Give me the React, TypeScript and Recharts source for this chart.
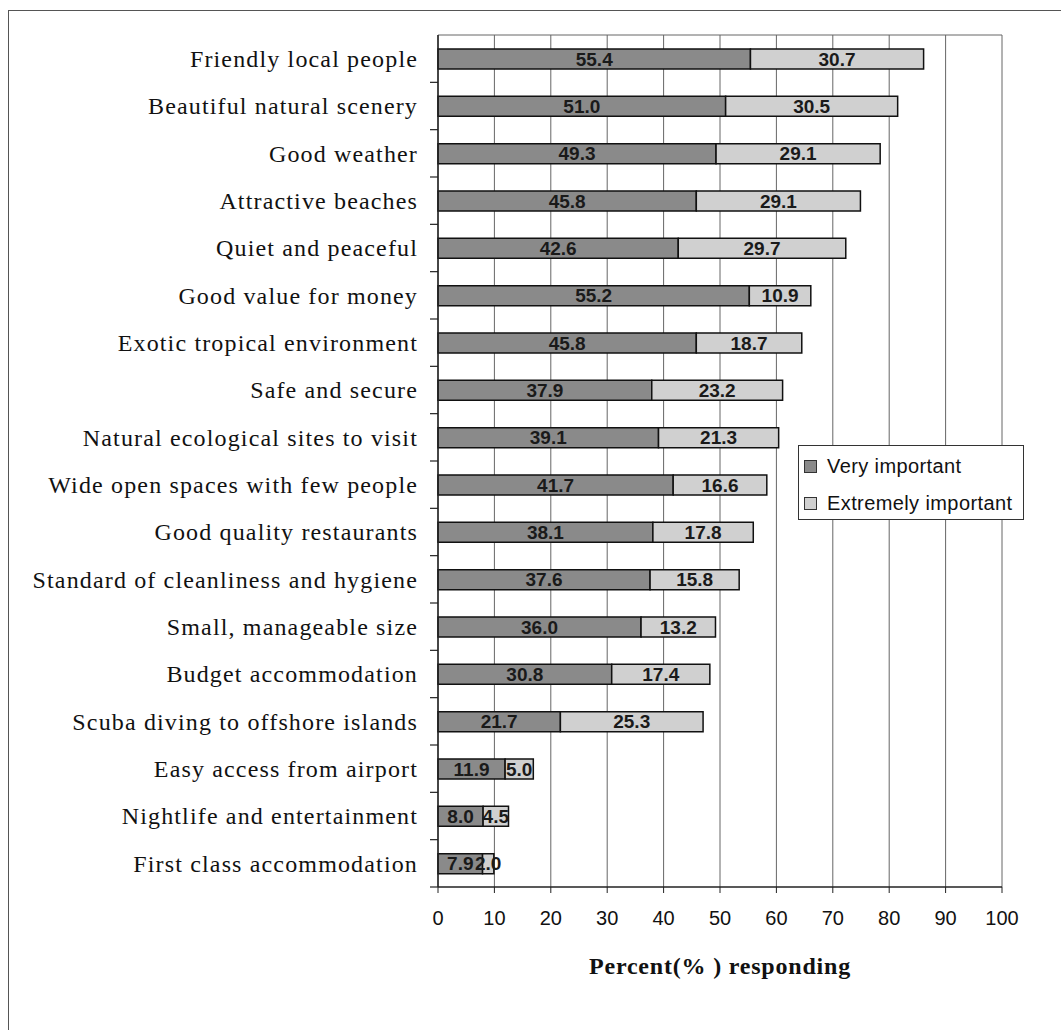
import React from 'react'
import { BarChart, Bar, XAxis, YAxis, CartesianGrid, LabelList } from 'recharts'

const categories = [
  'Friendly local people',
  'Beautiful natural scenery',
  'Good weather',
  'Attractive beaches',
  'Quiet and peaceful',
  'Good value for money',
  'Exotic tropical environment',
  'Safe and secure',
  'Natural ecological sites to visit',
  'Wide open spaces with few people',
  'Good quality restaurants',
  'Standard of cleanliness and hygiene',
  'Small, manageable size',
  'Budget accommodation',
  'Scuba diving to offshore islands',
  'Easy access from airport',
  'Nightlife and entertainment',
  'First class accommodation',
]

const veryImportant = [55.4, 51.0, 49.3, 45.8, 42.6, 55.2, 45.8, 37.9, 39.1, 41.7, 38.1, 37.6, 36.0, 30.8, 21.7, 11.9, 8.0, 7.9]
const extremelyImportant = [30.7, 30.5, 29.1, 29.1, 29.7, 10.9, 18.7, 23.2, 21.3, 16.6, 17.8, 15.8, 13.2, 17.4, 25.3, 5.0, 4.5, 2.0]

const xTicks = [0, 10, 20, 30, 40, 50, 60, 70, 80, 90, 100]

const data = categories.map((name, i) => ({
  name,
  very: veryImportant[i],
  extreme: extremelyImportant[i],
}))

const W = 1061
const H = 1030
const TOP = 35
const AXIS_X = 438
const PLOT_BOTTOM = 887
const BAND = (PLOT_BOTTOM - TOP) / categories.length

const DARK = '#8a8a8a'
const LIGHT = '#d0d0d0'
const SERIF = '"Liberation Serif", "Times New Roman", serif'
const SANS = '"Liberation Sans", Arial, sans-serif'

function CategoryTick(props: any) {
  const { y, payload } = props
  return (
    <g>
      <text
        x={AXIS_X - 20}
        y={y}
        dy="0.35em"
        textAnchor="end"
        fontFamily={SERIF}
        fontSize={24}
        letterSpacing={1.15}
        fill="#111"
      >
        {payload.value}
      </text>
      <line x1={AXIS_X - 8} x2={AXIS_X} y1={y + BAND / 2} y2={y + BAND / 2} stroke="#222" strokeWidth={1.2} />
    </g>
  )
}

function LegendBox() {
  const items = [
    { label: 'Very important', color: DARK },
    { label: 'Extremely important', color: LIGHT },
  ]
  return (
    <div
      style={{
        position: 'absolute',
        left: 798,
        top: 445,
        border: '1px solid #333',
        background: '#fff',
        width: 226,
        height: 75,
        boxSizing: 'border-box',
        paddingTop: 5,
        fontFamily: SANS,
        fontSize: 20,
        letterSpacing: 0.4,
        color: '#111',
      }}
    >
      {items.map((it) => (
        <div key={it.label} style={{ display: 'flex', alignItems: 'center', height: 30, marginBottom: 7 }}>
          <span
            style={{
              display: 'inline-block',
              width: 11,
              height: 11,
              border: '1px solid #333',
              background: it.color,
              marginLeft: 5,
              marginRight: 10,
            }}
          />
          {it.label}
        </div>
      ))}
    </div>
  )
}

export default function App() {
  return (
    <div style={{ position: 'absolute', left: 0, top: 0, width: W, height: H, overflow: 'hidden', background: '#fff' }}>
      <div
        style={{
          position: 'absolute',
          left: 8,
          top: 10,
          width: 1200,
          height: 1200,
          border: '1.5px solid #555',
        }}
      />
      <div style={{ position: 'absolute', left: 0, top: 0 }}>
        <BarChart
          width={W}
          height={H}
          data={data}
          layout="vertical"
          barSize={20}
          margin={{ top: TOP, right: W - 1002, bottom: H - PLOT_BOTTOM - 60, left: 0 }}
        >
          <CartesianGrid
            stroke="#666"
            strokeWidth={1}
            horizontalCoordinatesGenerator={({ offset }: any) => [offset.top]}
          />
          <XAxis
            type="number"
            domain={[0, 100]}
            ticks={xTicks}
            height={60}
            tickSize={6}
            tickMargin={18}
            axisLine={{ stroke: '#222', strokeWidth: 1.5 }}
            tickLine={{ stroke: '#222' }}
            tick={{ fill: '#111', fontFamily: SANS, fontSize: 20 }}
            label={{
              value: 'Percent(% ) responding',
              position: 'bottom',
              offset: 10,
              style: { fontFamily: SERIF, fontWeight: 'bold', fontSize: 24, fill: '#111', letterSpacing: 0.8 },
            }}
          />
          <YAxis
            type="category"
            dataKey="name"
            width={AXIS_X}
            axisLine={{ stroke: '#222', strokeWidth: 1.5 }}
            tickLine={false}
            interval={0}
            tick={<CategoryTick />}
          />
          <Bar dataKey="very" name="Very important" stackId="a" fill={DARK} stroke="#111" strokeWidth={1.5} isAnimationActive={false}>
            <LabelList
              dataKey="very"
              position="center"
              formatter={(v: any) => Number(v).toFixed(1)}
              style={{ fontFamily: SANS, fontSize: 19, fontWeight: 'bold', fill: '#1a1a1a' }}
            />
          </Bar>
          <Bar dataKey="extreme" name="Extremely important" stackId="a" fill={LIGHT} stroke="#111" strokeWidth={1.5} isAnimationActive={false}>
            <LabelList
              dataKey="extreme"
              position="center"
              formatter={(v: any) => Number(v).toFixed(1)}
              style={{ fontFamily: SANS, fontSize: 19, fontWeight: 'bold', fill: '#1a1a1a' }}
            />
          </Bar>
        </BarChart>
      </div>
      <LegendBox />
    </div>
  )
}
